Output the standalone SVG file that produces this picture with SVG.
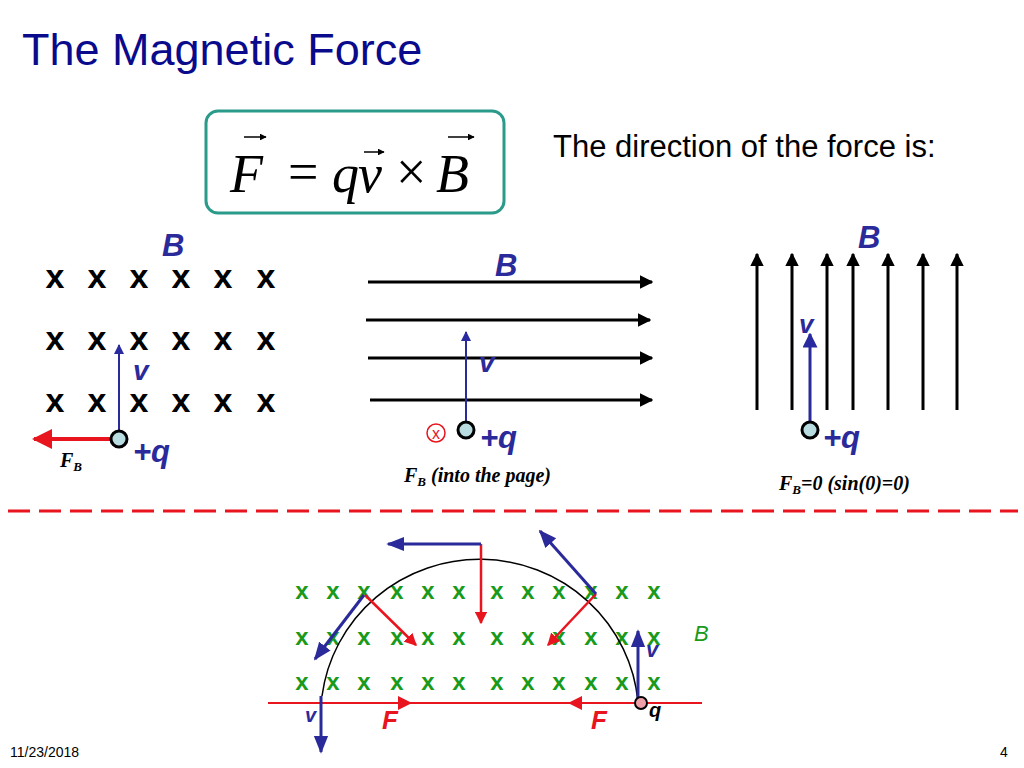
<svg xmlns="http://www.w3.org/2000/svg" width="1024" height="768" viewBox="0 0 1024 768">
<defs>
<marker id="abl" viewBox="0 0 10 10" refX="9" refY="5" markerWidth="4.5" markerHeight="4.5" orient="auto"><path d="M0,0 L10,5 L0,10 z" fill="#000"/></marker>
<marker id="ar" viewBox="0 0 10 10" refX="9" refY="5" markerWidth="5" markerHeight="5" orient="auto"><path d="M0,0 L10,5 L0,10 z" fill="#e8141e"/></marker>
<marker id="ab2" viewBox="0 0 10 10" refX="9" refY="5" markerWidth="5" markerHeight="5" orient="auto"><path d="M0,0 L10,5 L0,10 z" fill="#2a2aa0"/></marker>
<marker id="at" viewBox="0 0 10 10" refX="9" refY="5" markerWidth="6" markerHeight="6" orient="auto"><path d="M0,1 L10,5 L0,9 z" fill="#2a2a9a"/></marker>
</defs>
<style>
.t{font-family:"Liberation Sans",Arial,sans-serif}
.x{font-family:"Liberation Sans",Arial,sans-serif;font-weight:bold;font-size:34px;text-anchor:middle}
.gx{font-family:"Liberation Sans",Arial,sans-serif;font-weight:bold;font-size:24px;fill:#1a9a1a;text-anchor:middle}
.bl{font-family:"Liberation Sans",Arial,sans-serif;font-weight:bold;font-style:italic;fill:#2a2a9a}
.s{font-family:"Liberation Serif","Times New Roman",serif;font-weight:bold;font-style:italic;font-size:20px}
.m{font-family:"Liberation Serif","Times New Roman",serif;font-size:54px}
</style>
<rect width="1024" height="768" fill="#fff"/>
<text class="t" x="22" y="65" font-size="45" fill="#0a0a8c">The Magnetic Force</text>
<g id="formula">
<rect x="206" y="111" width="298" height="102" rx="12" fill="#fff" stroke="#2a9a8a" stroke-width="3"/>
<text class="m" x="230" y="192" font-style="italic">F</text>
<text class="m" x="288" y="190">=</text>
<text class="m" x="332" y="192" font-style="italic">q</text>
<text class="m" x="358" y="192" font-style="italic">v</text>
<text class="m" x="396" y="190" font-size="46">×</text>
<text class="m" x="436" y="192" font-style="italic">B</text>
<g stroke="#000" stroke-width="1.5" marker-end="url(#abl)"><line x1="244" y1="137" x2="266" y2="137"/><line x1="364" y1="152" x2="384" y2="152"/><line x1="448" y1="137" x2="474" y2="137"/></g>
</g>
<text class="t" x="553" y="157" font-size="31">The direction of the force is:</text>
<g id="left">
<text class="bl" x="162" y="256" font-size="31">B</text>
<g class="x"><text x="55" y="288">x</text><text x="97" y="288">x</text><text x="139" y="288">x</text><text x="181" y="288">x</text><text x="223" y="288">x</text><text x="266" y="288">x</text>
<text x="55" y="350">x</text><text x="97" y="350">x</text><text x="139" y="350">x</text><text x="181" y="350">x</text><text x="223" y="350">x</text><text x="266" y="350">x</text>
<text x="55" y="412">x</text><text x="97" y="412">x</text><text x="139" y="412">x</text><text x="181" y="412">x</text><text x="223" y="412">x</text><text x="266" y="412">x</text></g>
<line x1="119" y1="439" x2="119" y2="345" stroke="#2a2a9a" stroke-width="2" marker-end="url(#ab2)"/>
<text class="bl" x="133" y="380" font-size="28">v</text>
<line x1="110" y1="439" x2="34" y2="439" stroke="#e8141e" stroke-width="4" marker-end="url(#ar)"/>
<circle cx="119" cy="439" r="8" fill="#b8dce0" stroke="#000" stroke-width="3"/>
<text class="bl" x="133" y="462" font-size="31">+q</text>
<text class="s" x="60" y="467">F<tspan font-size="13" dy="4">B</tspan></text>
</g>
<g id="middle">
<text class="bl" x="495" y="276" font-size="31">B</text>
<g stroke="#000" stroke-width="3" marker-end="url(#abl)"><line x1="368" y1="282" x2="652" y2="282"/><line x1="366" y1="320" x2="650" y2="320"/><line x1="368" y1="358" x2="652" y2="358"/><line x1="370" y1="400" x2="652" y2="400"/></g>
<line x1="466" y1="430" x2="466" y2="332" stroke="#2a2a9a" stroke-width="2" marker-end="url(#ab2)"/>
<text class="bl" x="479" y="372" font-size="28">v</text>
<circle cx="466" cy="430" r="8" fill="#b8dce0" stroke="#000" stroke-width="3"/>
<circle cx="436" cy="433" r="9" fill="#fff" stroke="#e8141e" stroke-width="1.5"/>
<text class="t" x="436" y="439" font-size="16" fill="#e8141e" text-anchor="middle">x</text>
<text class="bl" x="480" y="448" font-size="31">+q</text>
<text class="s" x="404" y="482">F<tspan font-size="13" dy="4">B</tspan><tspan dy="-4"> (into the page)</tspan></text>
</g>
<g id="right">
<text class="bl" x="858" y="248" font-size="31">B</text>
<g stroke="#000" stroke-width="3" marker-end="url(#abl)"><line x1="757" y1="410" x2="757" y2="254"/><line x1="792" y1="410" x2="792" y2="254"/><line x1="827" y1="410" x2="827" y2="254"/><line x1="853" y1="410" x2="853" y2="254"/><line x1="888" y1="410" x2="888" y2="254"/><line x1="923" y1="410" x2="923" y2="254"/><line x1="957" y1="410" x2="957" y2="254"/></g>
<line x1="810" y1="430" x2="810" y2="334" stroke="#2a2a9a" stroke-width="3" marker-end="url(#ab2)"/>
<text class="bl" x="799" y="333" font-size="26">v</text>
<circle cx="810" cy="430" r="8" fill="#b8dce0" stroke="#000" stroke-width="3"/>
<text class="bl" x="823" y="448" font-size="31">+q</text>
<text class="s" x="779" y="490">F<tspan font-size="13" dy="4">B</tspan><tspan dy="-4">=0 (sin(0)=0)</tspan></text>
</g>
<line x1="8" y1="511" x2="1018" y2="511" stroke="#e8141e" stroke-width="3" stroke-dasharray="22,9"/>
<g id="bottom">
<g class="gx">
<text x="302" y="599">x</text><text x="333" y="599">x</text><text x="364" y="599">x</text><text x="397" y="599">x</text><text x="428" y="599">x</text><text x="459" y="599">x</text><text x="497" y="599">x</text><text x="528" y="599">x</text><text x="559" y="599">x</text><text x="591" y="599">x</text><text x="622" y="599">x</text><text x="654" y="599">x</text>
<text x="302" y="645">x</text><text x="333" y="645">x</text><text x="364" y="645">x</text><text x="397" y="645">x</text><text x="428" y="645">x</text><text x="459" y="645">x</text><text x="497" y="645">x</text><text x="528" y="645">x</text><text x="559" y="645">x</text><text x="591" y="645">x</text><text x="622" y="645">x</text><text x="654" y="645">x</text>
<text x="302" y="690">x</text><text x="333" y="690">x</text><text x="364" y="690">x</text><text x="397" y="690">x</text><text x="428" y="690">x</text><text x="459" y="690">x</text><text x="497" y="690">x</text><text x="528" y="690">x</text><text x="559" y="690">x</text><text x="591" y="690">x</text><text x="622" y="690">x</text><text x="654" y="690">x</text>
</g>
<text class="t" x="694" y="641" font-size="22" font-style="italic" fill="#1a9a1a">B</text>
<line x1="268" y1="703" x2="702" y2="703" stroke="#e8141e" stroke-width="2"/>
<path d="M 322 696 A 159 157 0 0 1 638 702" fill="none" stroke="#000" stroke-width="1.5"/>
<g stroke="#e8141e" stroke-width="2.5" marker-end="url(#ar)">
<line x1="481" y1="544" x2="481" y2="623"/>
<line x1="365" y1="595" x2="416" y2="645"/>
<line x1="596" y1="594" x2="548" y2="645"/>
</g>
<g fill="#e8141e"><path d="M398,696 L398,710 L412,703 z"/><path d="M582,696 L582,710 L568,703 z"/></g>
<g stroke="#2a2a9a" stroke-width="3" marker-end="url(#at)">
<line x1="481" y1="544" x2="388" y2="544"/>
<line x1="596" y1="594" x2="540" y2="531"/>
<line x1="364" y1="595" x2="315" y2="659"/>
<line x1="321" y1="696" x2="321" y2="752"/>
<line x1="638" y1="700" x2="638" y2="631"/>
</g>
<circle cx="641" cy="703" r="6" fill="#f0a0a8" stroke="#000" stroke-width="2"/>
<text class="bl" x="646" y="657" font-size="22">v</text>
<text class="bl" x="305" y="722" font-size="20">v</text>
<text class="bl" x="382" y="729" font-size="26" style="fill:#e8141e">F</text>
<text class="bl" x="591" y="729" font-size="26" style="fill:#e8141e">F</text>
<text x="649" y="717" font-family="Liberation Sans,sans-serif" font-weight="bold" font-style="italic" font-size="20">q</text>
</g>
<text class="t" x="10" y="757" font-size="14">11/23/2018</text>
<text class="t" x="1000" y="757" font-size="14">4</text>
</svg>
